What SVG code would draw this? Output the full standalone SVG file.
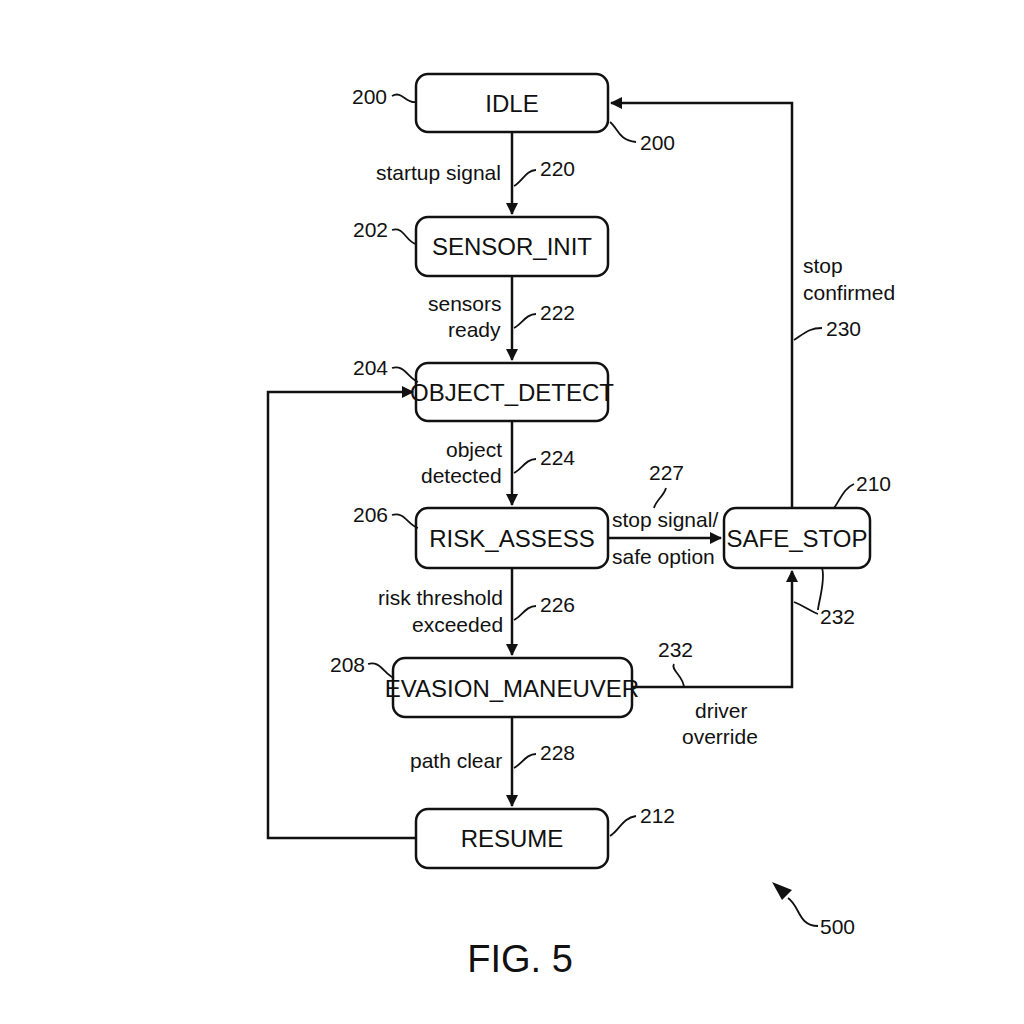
<svg xmlns="http://www.w3.org/2000/svg" width="1024" height="1024" viewBox="0 0 1024 1024">
<defs>
<marker id="ah" viewBox="0 0 12 12" refX="11" refY="6" markerWidth="12" markerHeight="12" markerUnits="userSpaceOnUse" orient="auto"><path d="M0,0 L12,6 L0,12 z" fill="#111"/></marker>
<style>
.n rect{fill:#fff;stroke:#111;stroke-width:2.5}
.n text{font-family:"Liberation Sans",Arial,sans-serif;font-size:24px;fill:#111;text-anchor:middle}
.c path{fill:none;stroke:#111;stroke-width:2.5}
.lb{font-family:"Liberation Sans",Arial,sans-serif;font-size:21px;fill:#111}
.ld{fill:none;stroke:#111;stroke-width:1.8}
</style>
</defs>
<rect width="1024" height="1024" fill="#fff"/>
<g class="c">
<path d="M512,132 V214" marker-end="url(#ah)"/>
<path d="M512,276 V360" marker-end="url(#ah)"/>
<path d="M512,421 V505" marker-end="url(#ah)"/>
<path d="M512,568 V655" marker-end="url(#ah)"/>
<path d="M512,717 V806" marker-end="url(#ah)"/>
<path d="M416,838 H268 V392 H413" marker-end="url(#ah)"/>
<path d="M792,508 V103 H611" marker-end="url(#ah)"/>
<path d="M608,538 H721" marker-end="url(#ah)"/>
<path d="M632,687 H792 V571" marker-end="url(#ah)"/>
</g>
<g id="idle" class="n"><rect x="416" y="74" width="192" height="58" rx="12"/><text x="512" y="112">IDLE</text></g>
<g id="sensor_init" class="n"><rect x="416" y="217" width="192" height="59" rx="12"/><text x="512" y="255">SENSOR_INIT</text></g>
<g id="object_detect" class="n"><rect x="416" y="363" width="192" height="58" rx="12"/><text x="512" y="401">OBJECT_DETECT</text></g>
<g id="risk_assess" class="n"><rect x="416" y="508" width="192" height="60" rx="12"/><text x="512" y="547">RISK_ASSESS</text></g>
<g id="evasion" class="n"><rect x="393" y="658" width="239" height="59" rx="12"/><text x="512" y="697">EVASION_MANEUVER</text></g>
<g id="resume" class="n"><rect x="416" y="809" width="192" height="59" rx="12"/><text x="512" y="847">RESUME</text></g>
<g id="safe_stop" class="n"><rect x="724" y="508" width="146" height="60" rx="12"/><text x="797" y="547">SAFE_STOP</text></g>
<g id="labels">
<text class="lb" x="352" y="104">200</text><path class="ld" d="M392,96 C402,90 406,104 416,102"/>
<text class="lb" x="640" y="150">200</text><path class="ld" d="M610,122 C618,128 618,140 636,142"/>
<text class="lb" x="376" y="180" >startup signal</text>
<text class="lb" x="540" y="176">220</text><path class="ld" d="M514,186 C522,182 526,170 536,170"/>
<text class="lb" x="353" y="237">202</text><path class="ld" d="M392,230 C404,226 406,242 416,244"/>
<text class="lb" x="428" y="311">sensors</text><text class="lb" x="448" y="337">ready</text>
<text class="lb" x="540" y="320">222</text><path class="ld" d="M514,328 C522,324 526,314 536,314"/>
<text class="lb" x="353" y="375">204</text><path class="ld" d="M392,368 C404,364 408,378 418,382"/>
<text class="lb" x="446" y="457">object</text><text class="lb" x="421" y="483">detected</text>
<text class="lb" x="540" y="465">224</text><path class="ld" d="M514,473 C522,469 526,459 536,459"/>
<text class="lb" x="353" y="522">206</text><path class="ld" d="M392,515 C404,511 408,525 418,528"/>
<text class="lb" x="649" y="480">227</text><path class="ld" d="M666,488 C664,496 656,500 654,508"/>
<text class="lb" x="612" y="527">stop signal/</text><text class="lb" x="612" y="564">safe option</text>
<text class="lb" x="856" y="491">210</text><path class="ld" d="M834,508 C840,500 844,488 854,484"/>
<text class="lb" x="820" y="624">232</text><path class="ld" d="M822,568 C826,580 818,604 818,610"/>
<path class="ld" d="M794,602 C804,606 812,612 818,614"/>
<text class="lb" x="378" y="605">risk threshold</text><text class="lb" x="412" y="632">exceeded</text>
<text class="lb" x="540" y="612">226</text><path class="ld" d="M514,620 C522,616 526,606 536,606"/>
<text class="lb" x="330" y="672">208</text><path class="ld" d="M368,664 C380,660 384,674 394,678"/>
<text class="lb" x="658" y="657">232</text><path class="ld" d="M684,688 C684,676 670,670 674,664"/>
<text class="lb" x="695" y="718">driver</text><text class="lb" x="682" y="744">override</text>
<text class="lb" x="410" y="768">path clear</text>
<text class="lb" x="540" y="760">228</text><path class="ld" d="M514,768 C522,764 526,754 536,754"/>
<text class="lb" x="640" y="823">212</text><path class="ld" d="M610,836 C620,830 622,818 636,816"/>
<text class="lb" x="803" y="273">stop</text><text class="lb" x="803" y="300">confirmed</text>
<text class="lb" x="826" y="336">230</text><path class="ld" d="M794,340 C806,332 810,328 822,328"/>
<text class="lb" x="820" y="934">500</text><path class="ld" d="M818,926 C798,926 800,906 788,898"/>
<path d="M772,882 L792,890 L782,900 z" fill="#111"/>
<text x="520" y="972" font-family="Liberation Sans,Arial,sans-serif" font-size="38" fill="#111" text-anchor="middle">FIG. 5</text>
</g>
</svg>
